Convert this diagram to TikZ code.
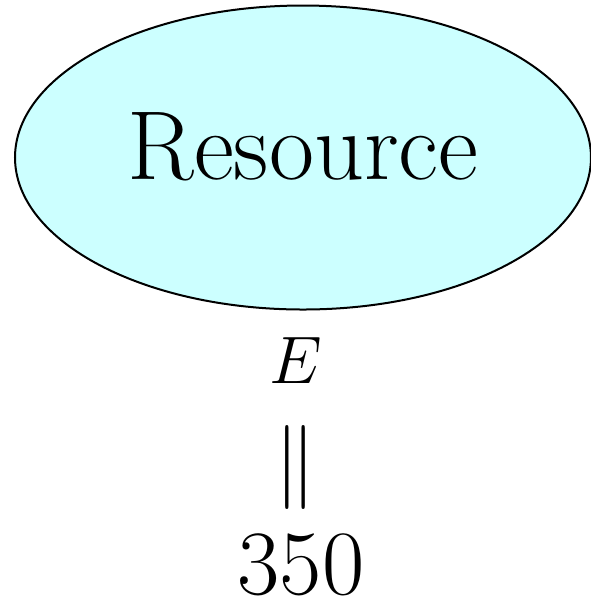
\documentclass[tikz,border=0pt]{standalone}
\usepackage{fix-cm}
\usepackage{xcolor}
\usepackage{tikz}
\usetikzlibrary{shapes.geometric}
\definecolor{respale}{rgb}{0.8,1,1}

\begin{document}
\begin{tikzpicture}[x=0.25pt,y=-0.25pt,
    resnode/.style={ellipse,draw,fill=respale,line width=0.5pt,inner sep=0pt,
      minimum width=144pt,minimum height=76pt,text height=20pt,text depth=8.8pt,
      font=\fontsize{24.5}{29}\selectfont},
    lbl/.style={anchor=base,inner sep=0pt}]
    \useasboundingbox (0,0) rectangle (591,604);
    \node[resnode] (res) at (303,157.5) {Resource};
    \node[lbl,font=\fontsize{16.8}{20}\selectfont] (ene) at (296,383) {$E$};
    \node[lbl,font=\fontsize{21}{25}\selectfont] (eq) at (295.5,488) {$\|$};
    \node[lbl,font=\fontsize{23}{28}\selectfont] (val) at (301,594) {350};
\end{tikzpicture}
\end{document}
